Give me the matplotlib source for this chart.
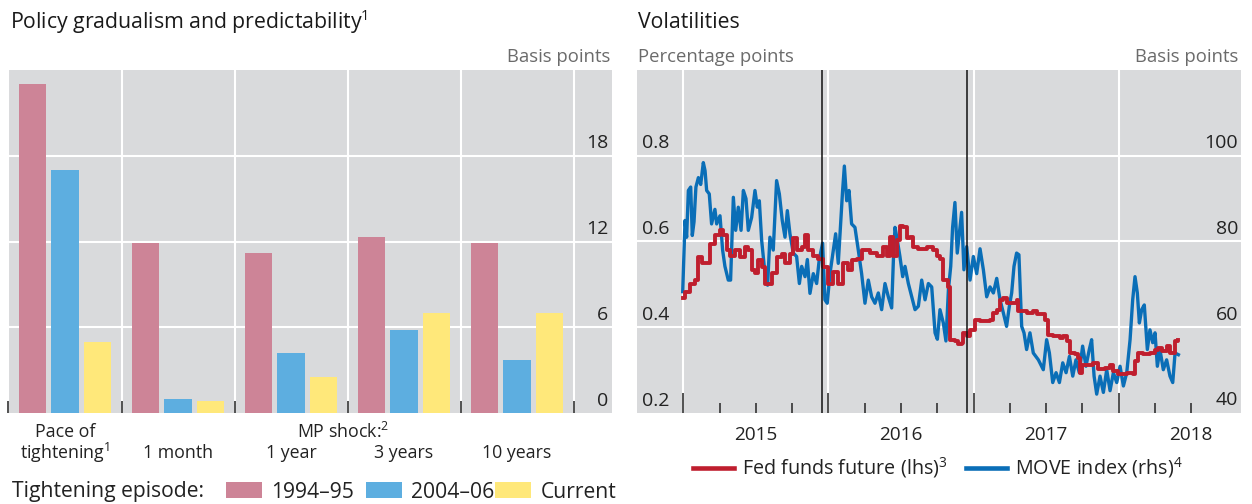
import matplotlib
matplotlib.use('Agg')
import matplotlib.pyplot as plt
import matplotlib.transforms as mtransforms
from matplotlib.patches import Patch
from matplotlib.lines import Line2D
from matplotlib.ticker import FixedLocator, NullFormatter

plt.rcParams['font.family'] = ['Open Sans', 'DejaVu Sans']
plt.rcParams['mathtext.fontset'] = 'custom'
plt.rcParams['mathtext.rm'] = 'Open Sans'
plt.rcParams['mathtext.it'] = 'Open Sans:italic'
plt.rcParams['mathtext.bf'] = 'Open Sans:bold'

# ---------------- data: left panel ----------------
categories = ['Pace of\ntightening$^{1}$', '1 month', '1 year', '3 years', '10 years']
episodes = ['1994–95', '2004–06', 'Current']
vals_1994 = [23.0, 11.9, 11.2, 12.3, 11.9]
vals_2004 = [17.0, 1.0, 4.2, 5.8, 3.7]
vals_current = [5.0, 0.85, 2.5, 7.0, 7.0]
bar_ticks = [0, 6, 12, 18]

# ---------------- data: right panel ----------------
ff_dates = [2014.996, 2015.012, 2015.046, 2015.081, 2015.104, 2015.127, 2015.161, 2015.184,
            2015.218, 2015.253, 2015.276, 2015.299, 2015.322, 2015.356, 2015.391, 2015.425,
            2015.448, 2015.471, 2015.494, 2015.517, 2015.540, 2015.563, 2015.586, 2015.609,
            2015.643, 2015.678, 2015.701, 2015.735, 2015.758, 2015.781, 2015.816, 2015.839,
            2015.862, 2015.896, 2015.931, 2015.965, 2015.999, 2016.034, 2016.068, 2016.103,
            2016.137, 2016.160, 2016.195, 2016.229,
            2016.287, 2016.333, 2016.379, 2016.402, 2016.425, 2016.448, 2016.470, 2016.493,
            2016.516, 2016.539, 2016.562, 2016.585, 2016.620, 2016.677, 2016.723, 2016.746,
            2016.769, 2016.792, 2016.827, 2016.838, 2016.872, 2016.895, 2016.918, 2016.930,
            2016.953, 2016.976, 2017.010, 2017.045, 2017.091, 2017.114, 2017.137, 2017.160,
            2017.183, 2017.206, 2017.228, 2017.274, 2017.297, 2017.309, 2017.343, 2017.366,
            2017.412, 2017.435, 2017.470,
            2017.493, 2017.516, 2017.550, 2017.596, 2017.619, 2017.642, 2017.665, 2017.700,
            2017.723, 2017.734, 2017.746, 2017.780, 2017.826, 2017.860, 2017.906, 2017.941,
            2017.964, 2017.998, 2018.056, 2018.102, 2018.113, 2018.136, 2018.171, 2018.216,
            2018.251, 2018.274, 2018.297, 2018.331, 2018.354, 2018.377, 2018.389, 2018.412]
ff_values = [0.468, 0.483, 0.502, 0.510, 0.564, 0.549, 0.550, 0.595,
             0.614, 0.626, 0.614, 0.580, 0.567, 0.580, 0.564, 0.587,
             0.580, 0.533, 0.526, 0.557, 0.541, 0.502, 0.500, 0.526,
             0.564, 0.572, 0.549, 0.572, 0.607, 0.580, 0.587, 0.614,
             0.580, 0.567, 0.560, 0.541, 0.502, 0.530, 0.502, 0.549,
             0.533, 0.557, 0.560, 0.580,
             0.574, 0.567, 0.587, 0.567, 0.610, 0.567, 0.603, 0.637,
             0.633, 0.607, 0.610, 0.587, 0.583, 0.587, 0.580, 0.567,
             0.560, 0.510, 0.495, 0.371, 0.367, 0.360, 0.363, 0.387,
             0.379, 0.394, 0.418, 0.414, 0.414, 0.418, 0.433, 0.440,
             0.464, 0.468, 0.456, 0.456, 0.464, 0.437, 0.437, 0.433,
             0.437, 0.430, 0.430,
             0.418, 0.383, 0.379, 0.375, 0.379, 0.367, 0.340, 0.337,
             0.329, 0.294, 0.313, 0.313, 0.317, 0.302, 0.306, 0.313,
             0.298, 0.290, 0.294, 0.290, 0.321, 0.340, 0.337, 0.340,
             0.348, 0.352, 0.344, 0.356, 0.340, 0.340, 0.367, 0.371]

move_dates = [2014.996, 2015.012, 2015.023, 2015.035, 2015.051, 2015.062, 2015.074, 2015.087,
              2015.104, 2015.120, 2015.138, 2015.150, 2015.161, 2015.179, 2015.195, 2015.218,
              2015.230, 2015.253, 2015.271, 2015.287, 2015.310, 2015.326, 2015.345, 2015.361,
              2015.379, 2015.398, 2015.414, 2015.432, 2015.448, 2015.471, 2015.494, 2015.510,
              2015.524, 2015.540, 2015.563, 2015.581, 2015.597, 2015.620, 2015.643, 2015.662,
              2015.682, 2015.701, 2015.717, 2015.735, 2015.758, 2015.781, 2015.800, 2015.816,
              2015.839, 2015.855, 2015.873, 2015.896, 2015.919, 2015.937, 2015.960, 2015.976,
              2015.992, 2016.011, 2016.034, 2016.050, 2016.068, 2016.084, 2016.098, 2016.110,
              2016.126, 2016.142, 2016.160, 2016.183, 2016.206, 2016.229, 2016.252, 2016.275,
              2016.298, 2016.321, 2016.344, 2016.367, 2016.390, 2016.413, 2016.436, 2016.448,
              2016.459, 2016.475, 2016.493, 2016.512, 2016.528, 2016.551, 2016.574, 2016.597,
              2016.620, 2016.643, 2016.666, 2016.689, 2016.712, 2016.735, 2016.751, 2016.769,
              2016.792, 2016.810, 2016.827, 2016.843, 2016.856, 2016.872, 2016.888, 2016.902,
              2016.918, 2016.934, 2016.953, 2016.976, 2016.999, 2017.022, 2017.045, 2017.068,
              2017.091, 2017.114, 2017.137, 2017.160, 2017.183, 2017.206, 2017.228, 2017.247,
              2017.263, 2017.279, 2017.297, 2017.313, 2017.332, 2017.348, 2017.366, 2017.389,
              2017.412, 2017.447,
              2017.481, 2017.504, 2017.523, 2017.546, 2017.569, 2017.592, 2017.615, 2017.638,
              2017.661, 2017.684, 2017.706, 2017.729, 2017.752, 2017.775, 2017.798, 2017.814,
              2017.831, 2017.849, 2017.872, 2017.895, 2017.918, 2017.941, 2017.964, 2017.987,
              2018.010, 2018.033, 2018.056, 2018.079, 2018.097, 2018.113, 2018.129, 2018.143,
              2018.159, 2018.177, 2018.198, 2018.216, 2018.235, 2018.251, 2018.267, 2018.285,
              2018.308, 2018.331, 2018.354, 2018.373, 2018.389, 2018.412]
move_values = [68.3, 84.9, 81.0, 91.9, 92.7, 81.4, 84.6, 92.7,
               94.9, 93.3, 98.4, 96.5, 91.9, 91.1, 84.1, 87.5,
               84.1, 86.0, 78.0, 74.2, 71.0, 71.0, 90.3, 82.6,
               88.0, 82.6, 91.9, 90.0, 82.6, 85.6, 91.9, 88.0,
               89.5, 80.3, 72.5, 69.8, 81.0, 78.0, 94.2, 91.1,
               84.9, 81.0, 87.2, 81.8, 77.3, 76.5, 70.2, 74.2,
               71.8, 75.8, 67.9, 72.5, 70.2, 75.8, 79.6, 66.4,
               65.6, 72.5, 78.0, 81.8, 74.9, 84.1, 91.9, 97.6,
               89.5, 91.9, 84.1, 83.3, 78.0, 72.5, 65.6, 71.0,
               67.1, 65.6, 68.0, 64.1, 70.2, 67.1, 64.5, 75.8,
               83.3, 80.3, 76.5, 71.8, 74.2, 70.2, 67.1, 64.1,
               64.9, 71.0, 66.4, 70.2, 69.4, 58.7, 57.2, 64.1,
               61.0, 56.8, 68.7, 74.2, 83.3, 89.1, 77.3, 81.8,
               86.8, 73.4, 78.8, 71.0, 76.5, 72.5, 78.3, 73.4,
               67.1, 69.4, 68.0, 71.4, 66.4, 63.3, 60.2, 64.9,
               68.0, 74.2, 77.3, 76.9, 60.2, 58.7, 54.8, 58.7,
               54.0, 52.4,
               50.1, 57.1, 54.0, 47.1, 49.4, 47.1, 51.7, 49.4,
               53.2, 48.6, 52.4, 49.4, 55.6, 50.9, 54.8, 57.1,
               48.6, 44.4, 48.6, 44.8, 50.1, 45.2, 49.4, 47.1,
               50.9, 46.3, 49.4, 57.1, 66.4, 71.8, 68.0, 61.0,
               64.1, 65.2, 54.8, 59.4, 56.4, 58.7, 50.9, 54.8,
               50.1, 52.4, 48.6, 47.1, 54.0, 53.6]

hike_dates = [2015.956, 2016.953]
years = [2015, 2016, 2017, 2018]
lhs_ticks = [0.2, 0.4, 0.6, 0.8]
rhs_ticks = [40, 60, 80, 100]

# ---------------- style ----------------
BG = '#D9DADC'
TXT = '#222222'
UNIT = '#6B6B6B'
C1994 = '#CD8497'
C2004 = '#5DAEE0'
CCUR = '#FFE87A'
RED = '#BF1E2E'
BLUE = '#0A6EB7'
FS_TITLE = 15.3
FS_UNIT = 13.3
FS_TICK = 14.0
FS_CAT = 12.8
FS_YEAR = 13.7
FS_LEGL = 15.2
FS_LEGR = 14.2

W, H = 1252, 504
fig = plt.figure(figsize=(W / 100, H / 100), dpi=100)


def fx(px):
    return px / W


def fy(py):
    return 1 - py / H


# ================= LEFT PANEL =================
axL = fig.add_axes([fx(8.5), fy(413), fx(612) - fx(8.5), fy(70) - fy(413)])
axL.set_facecolor(BG)
for s in axL.spines.values():
    s.set_visible(False)

n = len(categories)
xs = list(range(n))
off = 0.287
bw = 0.245
axL.bar([x - off for x in xs], vals_1994, width=bw, color=C1994, zorder=3)
axL.bar(xs, vals_2004, width=bw, color=C2004, zorder=3)
axL.bar([x + off for x in xs], vals_current, width=bw, color=CCUR, zorder=3)

axL.set_xlim(-0.5, 4.84)
axL.set_ylim(0, 24)
axL.set_yticks([6, 12, 18])
axL.tick_params(axis='y', length=0, labelleft=False)
axL.yaxis.grid(True, color='white', lw=1.5, zorder=1)
axL.set_xticks(xs)
axL.set_xticklabels([])
axL.tick_params(axis='x', which='major', length=0)
axL.xaxis.set_minor_locator(FixedLocator([i - 0.5 for i in range(n + 1)]))
axL.tick_params(axis='x', which='minor', direction='in', length=9, width=1.2, color='#333333')
axL.xaxis.grid(True, which='minor', color='white', lw=1.5, zorder=1)
axL.set_axisbelow(True)

blendL = mtransforms.blended_transform_factory(axL.transAxes, axL.transData)
for v in bar_ticks:
    axL.annotate(str(v), xy=(0.994, v), xycoords=blendL, xytext=(0, 9),
                 textcoords='offset points', ha='right', va='center',
                 fontsize=FS_TICK, color=TXT)

blendLx = mtransforms.blended_transform_factory(axL.transData, axL.transAxes)
axL.text(0, -0.0554, 'Pace of', transform=blendLx, ha='center', va='center', fontsize=FS_CAT, color=TXT)
axL.text(0, -0.117, 'tightening$^{1}$', transform=blendLx, ha='center', va='center', fontsize=FS_CAT, color=TXT)
for i in range(1, n):
    axL.text(i, -0.117, categories[i], transform=blendLx, ha='center', va='center',
             fontsize=FS_CAT, color=TXT)
axL.text(2.46, -0.0554, 'MP shock:$^{2}$', transform=blendLx, ha='center', va='center',
         fontsize=FS_CAT, color=TXT)

fig.text(fx(10), fy(22), 'Policy gradualism and predictability$^{1}$', ha='left', va='center',
         fontsize=FS_TITLE, color='#1A1A1A')
fig.text(fx(610), fy(57), 'Basis points', ha='right', va='center', fontsize=FS_UNIT, color=UNIT)

fig.text(fx(12), fy(492), 'Tightening episode:', ha='left', va='center', fontsize=FS_LEGL, color=TXT)
box_colors = [C1994, C2004, CCUR]
box_lefts = [226, 366, 495]
for lab, col, bl in zip(episodes, box_colors, box_lefts):
    lg = fig.legend([Patch(facecolor=col, edgecolor='none')], [lab], loc='center left',
                    bbox_to_anchor=(fx(bl), fy(492)), frameon=False, fontsize=FS_LEGL,
                    handlelength=1.7, handleheight=0.75, handletextpad=0.45,
                    borderpad=0, borderaxespad=0)
    for t in lg.get_texts():
        t.set_color(TXT)

# ================= RIGHT PANEL =================
pos = [fx(637), fy(413), fx(1240.5) - fx(637), fy(70) - fy(413)]
axM = fig.add_axes(pos)  # MOVE (rhs), bottom layer with background and grid
axM.set_facecolor(BG)
for s in axM.spines.values():
    s.set_visible(False)
axM.set_xlim(2014.681, 2018.84)
axM.set_ylim(40, 120)
axM.set_yticks([60, 80, 100])
axM.tick_params(axis='y', length=0, labelleft=False, labelright=False)
axM.yaxis.grid(True, color='white', lw=1.5)
axM.set_xticks(years)
axM.xaxis.set_major_formatter(NullFormatter())
axM.xaxis.set_minor_locator(FixedLocator([y + q for y in [2015, 2016, 2017] for q in (0.25, 0.5, 0.75)] +
                                         [2018.25, 2018.5]))
axM.tick_params(axis='x', which='major', direction='in', length=14.5, width=1.2, color='#333333')
axM.tick_params(axis='x', which='minor', direction='in', length=7.5, width=1.2, color='#333333')
axM.xaxis.grid(True, which='major', color='white', lw=1.5)
axM.set_axisbelow(True)
axM.plot(move_dates, move_values, color=BLUE, lw=2.4, solid_joinstyle='round', zorder=3)

axF = axM.twinx()  # Fed funds future (lhs), top layer
for s in axF.spines.values():
    s.set_visible(False)
axF.set_ylim(0.2, 1.0)
axF.set_yticks([])
axF.plot(ff_dates, ff_values, color=RED, lw=2.8, drawstyle='steps-post', zorder=3)
for d in hike_dates:
    axF.axvline(d, color='#111111', lw=1.1, zorder=4)

blendF = mtransforms.blended_transform_factory(axF.transAxes, axF.transData)
for v in lhs_ticks:
    axF.annotate(f'{v:.1f}', xy=(0.009, v), xycoords=blendF, xytext=(0, 9),
                 textcoords='offset points', ha='left', va='center', fontsize=FS_TICK, color=TXT)
blendM = mtransforms.blended_transform_factory(axM.transAxes, axM.transData)
for v in rhs_ticks:
    axF.annotate(str(v), xy=(0.996, v), xycoords=blendM, xytext=(0, 9),
                 textcoords='offset points', ha='right', va='center', fontsize=FS_TICK, color=TXT)

blendMx = mtransforms.blended_transform_factory(axM.transData, axM.transAxes)
for y in years:
    axM.text(y + 0.5, -0.064, str(y), transform=blendMx, ha='center', va='center',
             fontsize=FS_YEAR, color=TXT)

fig.text(fx(638), fy(22), 'Volatilities', ha='left', va='center', fontsize=FS_TITLE, color='#1A1A1A')
fig.text(fx(638), fy(57), 'Percentage points', ha='left', va='center', fontsize=FS_UNIT, color=UNIT)
fig.text(fx(1238), fy(57), 'Basis points', ha='right', va='center', fontsize=FS_UNIT, color=UNIT)

series_labels = ['Fed funds future (lhs)$^{3}$', 'MOVE index (rhs)$^{4}$']
for lab, col, hl in zip(series_labels, [RED, BLUE], [693, 966]):
    lg = fig.legend([Line2D([0], [0], color=col, lw=3.3)], [lab], loc='center left',
                    bbox_to_anchor=(fx(hl), fy(468)), frameon=False, fontsize=FS_LEGR,
                    handlelength=2.1, handletextpad=0.4, borderpad=0, borderaxespad=0)
    for t in lg.get_texts():
        t.set_color(TXT)

fig.savefig('out.png', dpi=100)
